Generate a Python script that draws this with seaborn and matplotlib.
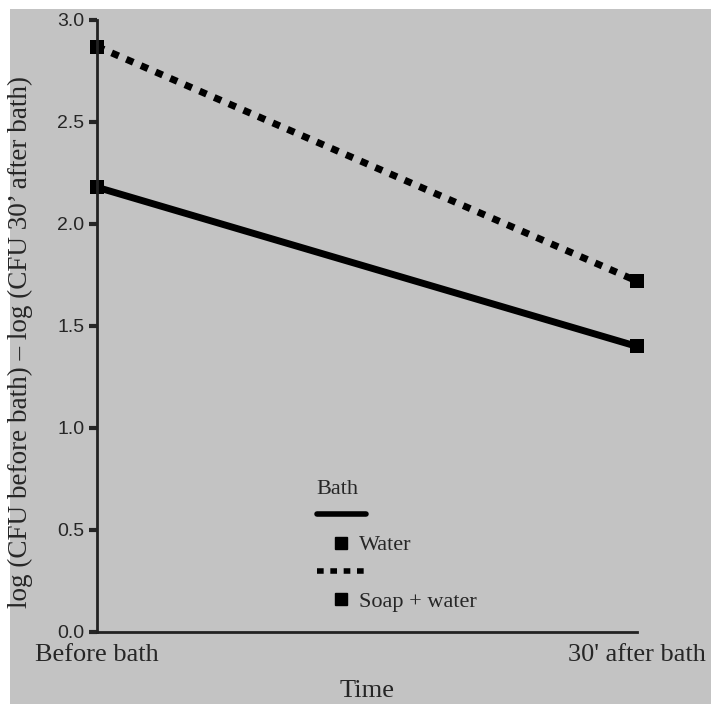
import pandas as pd
import matplotlib
matplotlib.use("Agg")
from matplotlib import pyplot as plt
from matplotlib.lines import Line2D
from matplotlib.patches import Rectangle
import seaborn as sns

# data
times = ["Before bath", "30' after bath"]
water = [2.18, 1.40]
soap_water = [2.87, 1.72]
baths = ["Water", "Soap + water"]

df = pd.DataFrame({
    "Time": list(range(len(times))) * 2,
    "Value": water + soap_water,
    "Bath": [baths[0]] * 2 + [baths[1]] * 2,
})

sns.set_style("white")
plt.rcParams['font.family'] = ['Liberation Serif', 'DejaVu Serif']
bg = "#c3c3c3"

fig = plt.figure(figsize=(7.14, 7.04), dpi=100, facecolor="white")
fig.patches.append(Rectangle((10 / 714, 0), 701 / 714, 695 / 704,
                             transform=fig.transFigure, facecolor=bg,
                             edgecolor="none", zorder=-5))
ax = fig.add_axes([97 / 714, 72 / 704, 540 / 714, 612 / 704])
ax.set_facecolor(bg)

sns.lineplot(data=df, x="Time", y="Value", hue="Bath", style="Bath",
             palette={baths[0]: "black", baths[1]: "black"},
             dashes={baths[0]: "", baths[1]: (1.1, 1.2)},
             markers={baths[0]: "s", baths[1]: "s"},
             markersize=10, linewidth=5, ax=ax, legend=False, clip_on=False)
for ln in ax.lines:
    ln.set_markeredgewidth(0)

ax.set_xlim(0, 1)
ax.set_ylim(0, 3.0)
ax.set_xticks([0, 1])
ax.set_xticklabels(times, fontsize=19)
ax.set_yticks([0, 0.5, 1.0, 1.5, 2.0, 2.5, 3.0])
ax.set_yticklabels([f"{v:.1f}" for v in ax.get_yticks()],
                   fontsize=14, family=['Liberation Sans', 'DejaVu Sans'])
ax.tick_params(axis="y", left=True, length=6, width=3, pad=3, direction="out")
ax.tick_params(axis="x", bottom=False, pad=5)
sns.despine(ax=ax)
for s in ["left", "bottom"]:
    ax.spines[s].set_linewidth(2)
    ax.spines[s].set_color("#222222")
ax.set_xlabel("Time", fontsize=19, labelpad=10)
ax.set_ylabel("log (CFU before bath) \u2013 log (CFU 30\u2019 after bath)",
              fontsize=19.5, va="center")
ax.yaxis.set_label_coords(-0.142, 0.474)

handles = [
    Line2D([], [], color="black", lw=4),
    Line2D([], [], color="black", lw=0, marker="s", markersize=9),
    Line2D([], [], color="black", lw=4, dashes=(1.2, 1.2)),
    Line2D([], [], color="black", lw=0, marker="s", markersize=9),
]
labels = ["", baths[0], "", baths[1]]
leg = ax.legend(handles, labels, title="Bath", loc="lower left",
                bbox_to_anchor=(0.37, 0.0), frameon=False, fontsize=16,
                title_fontsize=16, handlelength=2.2, handletextpad=-0.3,
                labelspacing=0.35)
leg._legend_box.align = "left"

fig.savefig("out.png", dpi=100, facecolor="white")
